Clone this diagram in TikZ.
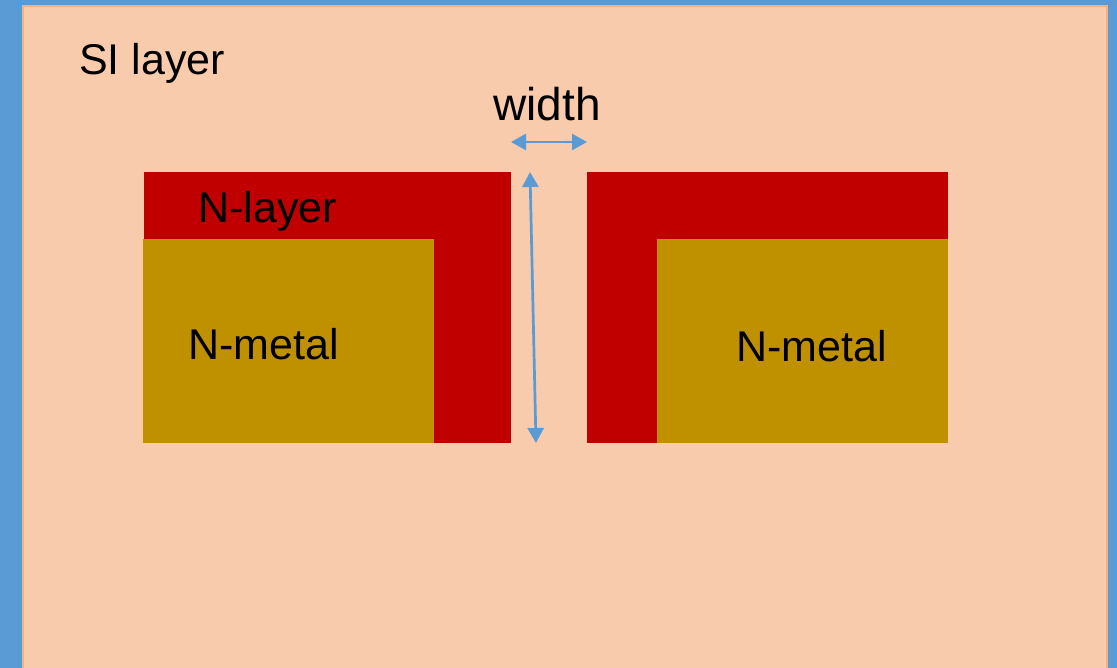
\documentclass[tikz,border=0pt]{standalone}
\usepackage{fontspec}
\setmainfont{Liberation Sans}
\usetikzlibrary{arrows.meta}
\definecolor{bgblue}{HTML}{5B9BD5}
\definecolor{peach}{HTML}{F8CBAD}
\definecolor{peachline}{HTML}{F4B183}
\definecolor{nred}{HTML}{C00000}
\definecolor{ngold}{HTML}{BF9000}
\tikzset{
  lbl/.style={inner sep=0pt, font=\fontsize{43}{50}\selectfont, text=black},
  dimarrow/.style={draw=bgblue, line width=2.7pt, {Triangle[length=15pt,width=16pt]}-{Triangle[length=15pt,width=16pt]}},
}
\begin{document}
\begin{tikzpicture}[x=1pt,y=-1pt]
\useasboundingbox (0,0) rectangle (1117,668);
\fill[bgblue] (0,0) rectangle (1117,668);
\draw[peachline, fill=peach, line width=2pt] (23,6) rectangle (1107,690);
% left structure
\fill[nred] (144,172) rectangle (511,443);
\fill[ngold] (143,239) rectangle (434,443);
% right structure
\fill[nred] (587,172) rectangle (948,443);
\fill[ngold] (657,239) rectangle (948,443);
% labels
\node[lbl, anchor=base west] (si) at (79,75) {SI layer};
\node[lbl, anchor=base, font=\fontsize{46}{52}\selectfont] (w) at (547,121) {width};
\node[lbl, anchor=base west] (nl) at (198,223) {N-layer};
\node[lbl, anchor=base west] (nm1) at (188,360) {N-metal};
\node[lbl, anchor=base west] (nm2) at (736,362) {N-metal};
% dimension arrows
\coordinate (h1) at (511,142);
\coordinate (h2) at (587,142);
\coordinate (v1) at (530,172);
\coordinate (v2) at (536,443);
\draw[dimarrow] (h1) -- (h2);
\draw[dimarrow] (v1) -- (v2);
\end{tikzpicture}
\end{document}
